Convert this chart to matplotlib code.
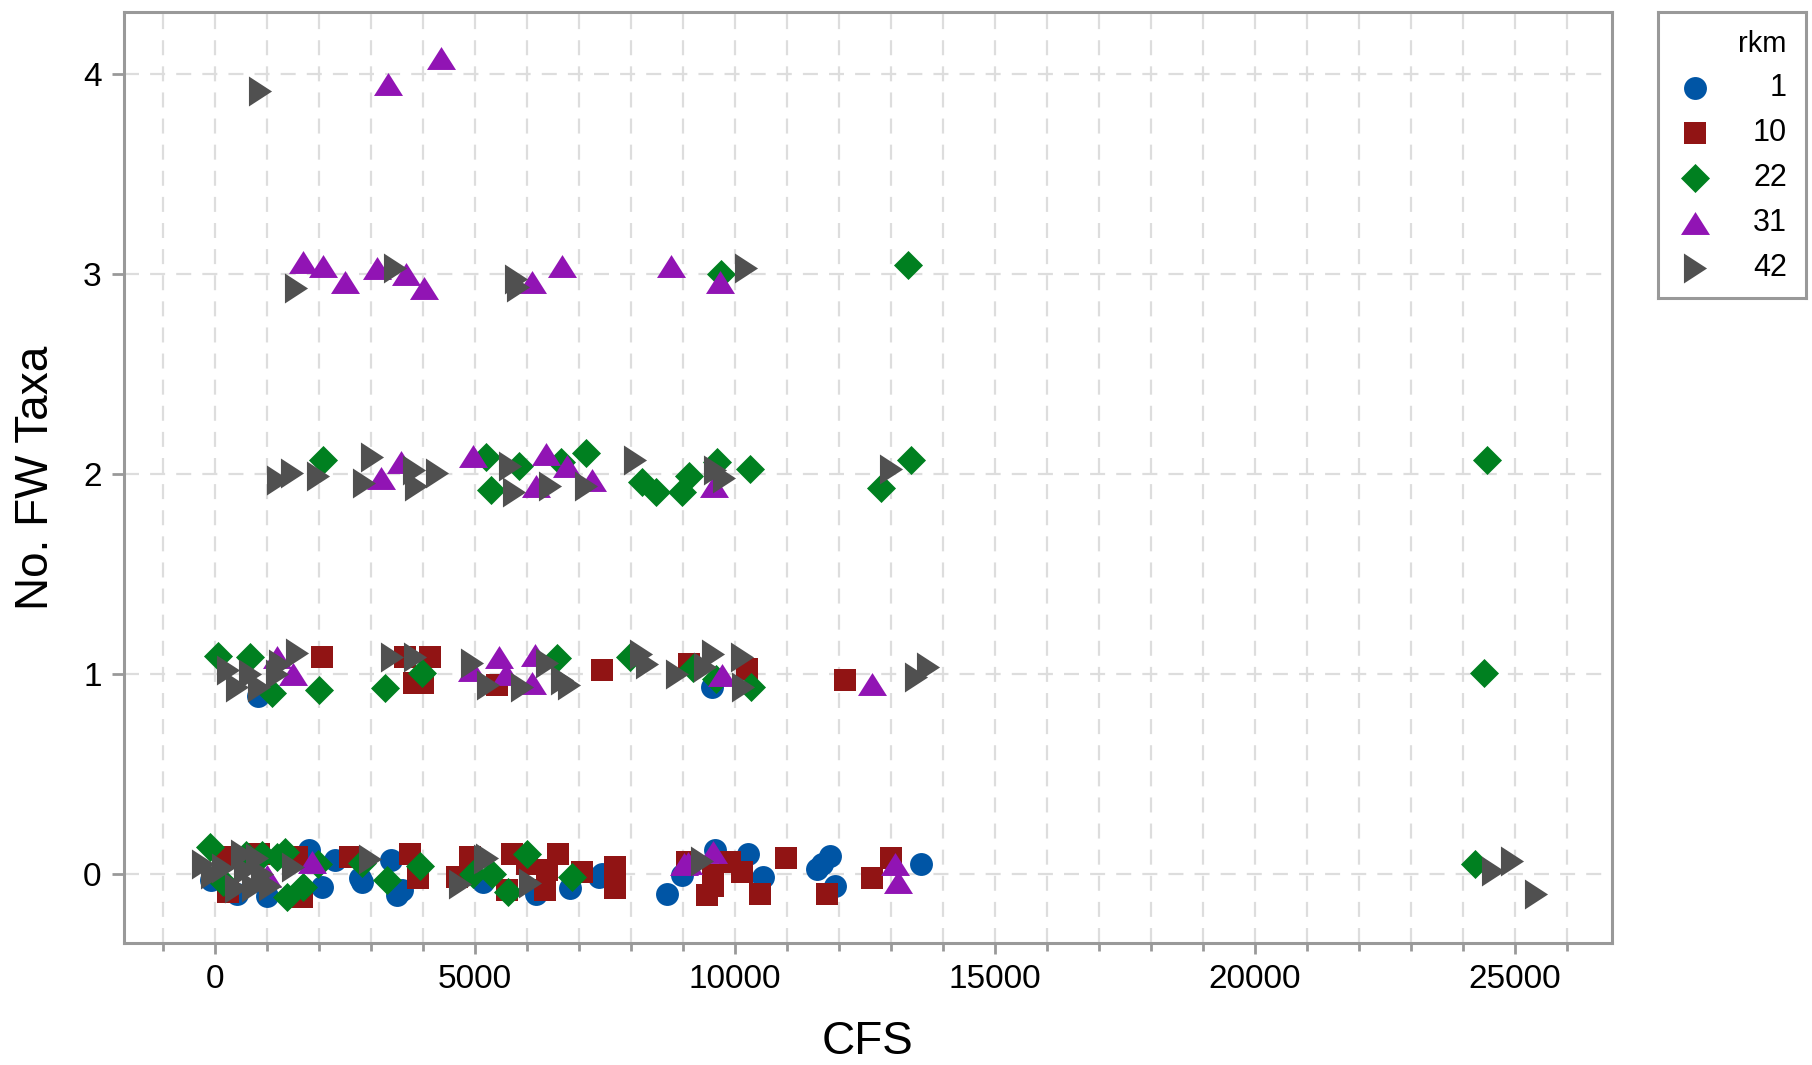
import numpy as np
import matplotlib.pyplot as plt
from matplotlib.ticker import MultipleLocator

plt.rcParams['font.family'] = ['Liberation Sans', 'DejaVu Sans']

# river km groups
rkm_labels = ['1', '10', '22', '31', '42']
rkm_colors = ['#0055A5', '#911414', '#008020', '#9114B4', '#505050']

# flow (CFS) and jittered freshwater taxa counts per river km
cfs_1 = [835, 9557, -77, 417, 1000, 1808, 2051, 2308, 2789, 2821, 3385, 3596, 3494, 5154,
         6173, 6827, 7385, 7442, 8692, 8975, 9612, 10250, 10538, 11571, 11673, 11819, 11923,
         13585]
taxa_1 = [0.89, 0.935, -0.03, -0.098, -0.11, 0.12, -0.063, 0.07, -0.02, -0.04, 0.07, -0.08, -0.105,
          -0.04, -0.10, -0.07, -0.017, 0.0, -0.10, -0.005, 0.12, 0.10, -0.013, 0.025, 0.05, 0.09,
          -0.06, 0.05]

cfs_10 = [2058, 3654, 4134, 4000, 3835, 5417, 7437, 9115, 10224, 12115,
          154, 250, 846, 1570, 1667, 2596, 3750, 3904, 4904, 4648, 5609, 5712, 6000, 6378,
          6596, 6346, 7051, 7686, 7686, 9071, 9468, 9577, 9577, 9904, 10128,
          10481, 10981, 11763, 12627, 13010]
taxa_10 = [1.083, 1.083, 1.083, 0.957, 0.953, 0.945, 1.018, 1.05, 1.027, 0.968,
           0.087, -0.088, 0.10, 0.087, -0.113, 0.087, 0.098, -0.02, 0.087, -0.013, -0.08, 0.098, 0.05, 0.02,
           0.098, -0.08, 0.012, 0.037, -0.072, 0.062, -0.105, -0.06, -0.005, 0.062, 0.012,
           -0.10, 0.08, -0.10, -0.02, 0.08]

cfs_22 = [9730, 13327,
          2087, 5221, 5317, 5846, 6654, 7127, 8219, 8480, 8980, 9115, 9648, 10288, 13378, 12808, 24462,
          64, 673, 1090, 2000, 3269, 3981, 6571, 7981, 9200, 9628, 10308, 24404,
          -96, 154, 596, 904, 1186, 1346, 1378, 1692, 1981, 2821, 3301, 3942, 4968, 5320, 5641,
          5994, 6859, 24231]
taxa_22 = [3.00, 3.045,
           2.07, 2.087, 1.92, 2.04, 2.06, 2.105, 1.96, 1.91, 1.91, 1.99, 2.06, 2.025, 2.07, 1.93, 2.07,
           1.092, 1.083, 0.903, 0.92, 0.928, 1.003, 1.078, 1.087, 1.03, 0.975, 0.937, 1.003,
           0.137, -0.04, 0.095, 0.095, 0.085, 0.11, -0.113, -0.063, 0.05, 0.054, -0.03, 0.04, 0.0, 0.0,
           -0.088, 0.098, -0.017, 0.05]

cfs_31 = [3327, 4338,
          1688, 2087, 2500, 3110, 3673, 4019, 6100, 6673, 8765, 9704,
          3192, 3577, 4962, 6173, 6365, 6769, 7250, 9590,
          1186, 1500, 4950, 5461, 5590, 6154, 6106, 9744, 12627,
          994, 1859, 9019, 9096, 9577, 13069, 13127]
taxa_31 = [3.95, 4.08,
           3.06, 3.04, 2.96, 3.03, 3.00, 2.93, 2.96, 3.04, 3.04, 2.96,
           1.98, 2.06, 2.09, 1.94, 2.10, 2.04, 1.97, 1.94,
           1.087, 1.00, 1.02, 1.083, 1.00, 1.095, 0.953, 0.993, 0.952,
           -0.01, 0.062, 0.05, 0.053, 0.112, 0.05, -0.04]

cfs_42 = [865,
          1550, 3456, 5780, 5830, 10212,
          1212, 1490, 1981, 3013, 2865, 3827, 3865, 4279, 5673, 5760, 6437, 7127, 8073, 9615, 9788, 12994,
          250, 417, 673, 850, 1186, 1250, 1570, 3397, 3846, 4936, 5250, 5897, 6378, 6673, 6804,
          8202, 8308, 8890, 9423, 9577, 10128, 10154, 13490, 13712,
          -230, -60, 150, 400, 513, 577, 737, 800, 900, 1058, 1500, 2981, 4712, 5192, 5224, 6058, 9359,
          24571, 24942, 25398]
taxa_42 = [3.915,
           2.93, 3.03, 2.975, 2.935, 3.03,
           1.97, 2.007, 1.99, 2.087, 1.955, 2.02, 1.94, 2.007, 2.04, 1.91, 1.94, 1.94, 2.07, 2.02, 1.98, 2.025,
           1.02, 0.937, 1.00, 0.935, 1.00, 1.05, 1.103, 1.087, 1.087, 1.053, 0.945, 0.937, 1.053, 0.97, 0.947,
           1.10, 1.05, 1.00, 1.037, 1.10, 1.085, 0.937, 0.987, 1.037,
           0.048, 0.0, 0.03, -0.07, 0.10, 0.02, -0.063, 0.08, 0.0, -0.06, 0.037, 0.073, -0.05, 0.073, 0.08,
           -0.047, 0.067,
           0.015, 0.067, -0.10]

series_cfs = [cfs_1, cfs_10, cfs_22, cfs_31, cfs_42]
series_taxa = [taxa_1, taxa_10, taxa_22, taxa_31, taxa_42]

tri_up = [(-1, -0.79), (1, -0.79), (0, 0.79)]
tri_right = [(-0.77, -1), (-0.77, 1), (0.77, 0)]
markers = ['o', 's', 'D', tri_up, tri_right]
sizes = [272, 272, 219, 436, 467]

frame_gray = '#999999'
grid_gray = '#DDDDDD'

fig = plt.figure(figsize=(18.12, 10.65), dpi=100)
ax = fig.add_axes([0.0684, 0.1146, 0.8212, 0.8741])

for x, y, c, m, s in zip(series_cfs, series_taxa, rkm_colors, markers, sizes):
    ax.scatter(x, y, marker=m, s=s, color=c, linewidths=0, zorder=3)

ax.set_xlim(-1750, 26865)
ax.set_ylim(-0.345, 4.31)
ax.xaxis.set_major_locator(MultipleLocator(5000))
ax.xaxis.set_minor_locator(MultipleLocator(1000))
ax.yaxis.set_major_locator(MultipleLocator(1))

ax.grid(True, which='both', axis='x', color=grid_gray, linewidth=1.6,
        linestyle=(0, (6.75, 5.0)), zorder=0)
ax.grid(True, which='major', axis='y', color=grid_gray, linewidth=1.6,
        linestyle=(0, (6.75, 5.0)), zorder=0)
ax.set_axisbelow(True)

for spine in ax.spines.values():
    spine.set_color(frame_gray)
    spine.set_linewidth(2.2)

ax.tick_params(axis='x', which='major', length=8, width=2, color=frame_gray,
               labelsize=24, pad=7)
ax.tick_params(axis='x', which='minor', length=6, width=2, color=frame_gray)
ax.tick_params(axis='y', which='major', length=9, width=2, color=frame_gray,
               labelsize=24, pad=7)

ax.set_xlabel('CFS', fontsize=33, labelpad=18)
ax.set_ylabel('No. FW Taxa', fontsize=33, labelpad=18)

# legend box drawn as its own small axes
lax = fig.add_axes([0.915, 0.7202, 0.0817, 0.2685])
lax.set_xlim(0, 1)
lax.set_ylim(0, 1)
lax.set_xticks([])
lax.set_yticks([])
for spine in lax.spines.values():
    spine.set_color(frame_gray)
    spine.set_linewidth(2.2)

lax.text(0.87, 0.888, 'rkm', ha='right', va='center', fontsize=21)
row_y = np.linspace(0.734, 0.105, len(rkm_labels))
for ry, lab, c, m, s in zip(row_y, rkm_labels, rkm_colors, markers, sizes):
    lax.scatter([0.25], [ry], marker=m, s=s, color=c, linewidths=0)
    lax.text(0.87, ry, lab, ha='right', va='center', fontsize=22)

fig.savefig('out.png', dpi=100)
